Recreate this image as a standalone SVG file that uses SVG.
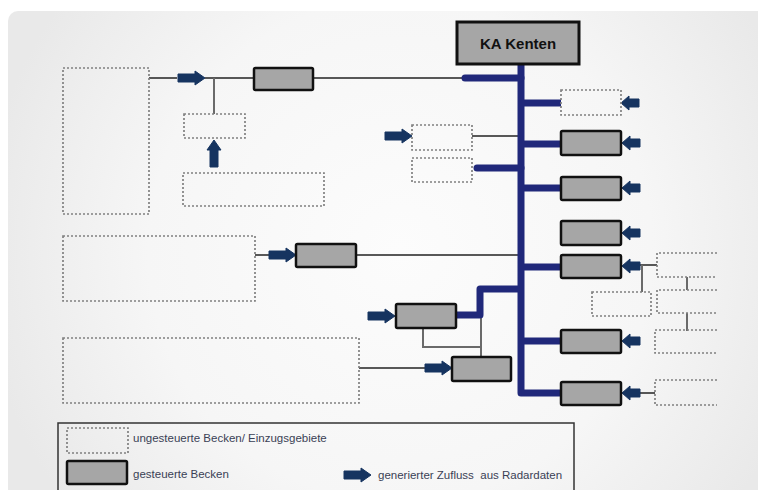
<svg xmlns="http://www.w3.org/2000/svg" width="758" height="490" viewBox="0 0 758 490">
  <defs>
    <radialGradient id="bg" cx="400" cy="250" r="420" gradientUnits="userSpaceOnUse">
      <stop offset="0" stop-color="#fcfcfc"/>
      <stop offset="0.6" stop-color="#f6f6f6"/>
      <stop offset="1" stop-color="#e9e9e9"/>
    </radialGradient>
    <path id="arrR" d="M0,0 L-10,-7 V-4 H-27 V4 H-10 V7 Z"/>
    <path id="arrL" d="M0,0 L8,-7 V-4 H18 V4 H8 V7 Z"/>
  </defs>
  <style>
    .dot { fill: none; stroke: #808080; stroke-width: 1.7; stroke-dasharray: 2 2; }
    .box { fill: #a6a6a6; stroke: #111; stroke-width: 2.5; }
    .thin { fill: none; stroke: #222; stroke-width: 1.5; }
    .gray { fill: none; stroke: #6a6a6a; stroke-width: 2; }
    .bus { fill: none; stroke: #20287a; stroke-width: 7; stroke-linecap: round; stroke-linejoin: round; }
    .arr { fill: #163460; stroke: #163460; stroke-width: 1; stroke-linejoin: round; }
    .lbl { font-family: "Liberation Sans", Arial, sans-serif; font-size: 11.5px; fill: #3a3f55; white-space: pre; }
    .title { font-family: "Liberation Sans", Arial, sans-serif; font-size: 15px; font-weight: bold; fill: #111; }
  </style>

  <rect x="0" y="0" width="758" height="490" fill="#ffffff"/>
  <rect x="8" y="11" width="770" height="500" rx="10" fill="url(#bg)"/>

  <g id="connectors">
    <line class="thin" x1="149" y1="78" x2="177" y2="78"/>
    <line class="thin" x1="205" y1="78" x2="254" y2="78"/>
    <line class="thin" x1="313" y1="78" x2="465" y2="78"/>
    <line class="thin" x1="472" y1="136" x2="521" y2="136"/>
    <line class="thin" x1="255" y1="255" x2="270" y2="255"/>
    <line class="thin" x1="356" y1="255" x2="521" y2="255"/>
    <line class="thin" x1="359" y1="368" x2="430" y2="368"/>
    <line class="thin" x1="640" y1="265" x2="657" y2="265"/>
    <line class="thin" x1="640" y1="393" x2="655" y2="393"/>
    <line class="gray" x1="214" y1="78" x2="214" y2="114"/>
    <polyline class="gray" points="423,328 423,347 481,347"/>
    <line class="gray" x1="481" y1="315" x2="481" y2="357"/>
    <line class="gray" x1="642" y1="265" x2="642" y2="292"/>
    <line class="gray" x1="687" y1="277" x2="687" y2="290"/>
    <line class="gray" x1="687" y1="313" x2="687" y2="331"/>
    <path class="bus" d="M521,64 V393 H561"/>
    <path class="bus" d="M465,78 H521"/>
    <path class="bus" d="M521,103 H561" style="stroke-linecap:butt"/>
    <path class="bus" d="M521,144 H561" style="stroke-linecap:butt"/>
    <path class="bus" d="M477,168 H521"/>
    <path class="bus" d="M521,188 H561" style="stroke-linecap:butt"/>
    <path class="bus" d="M521,267 H561" style="stroke-linecap:butt"/>
    <path class="bus" d="M521,341 H561" style="stroke-linecap:butt"/>
    <path class="bus" d="M456,315 H480 V289 H521" style="stroke-linecap:butt"/>
  </g>

  <g id="inflows" class="arr">
    <use href="#arrR" transform="translate(205,78)"/>
    <use href="#arrR" transform="translate(214,140) rotate(-90)"/>
    <use href="#arrR" transform="translate(412,136)"/>
    <use href="#arrR" transform="translate(296,255)"/>
    <use href="#arrR" transform="translate(395,316)"/>
    <use href="#arrR" transform="translate(452,368)"/>
    <use href="#arrL" transform="translate(621,103)"/>
    <use href="#arrL" transform="translate(622,143)"/>
    <use href="#arrL" transform="translate(622,188)"/>
    <use href="#arrL" transform="translate(622,233)"/>
    <use href="#arrL" transform="translate(622,266)"/>
    <use href="#arrL" transform="translate(622,341)"/>
    <use href="#arrL" transform="translate(622,393)"/>
  </g>

  <g id="ka-kenten">
    <rect x="457" y="22" width="122" height="42" fill="#a6a6a6" stroke="#111" stroke-width="3"/>
    <text class="title" x="518" y="49" text-anchor="middle">KA Kenten</text>
  </g>

  <g id="area-1"><rect class="dot" x="63" y="68" width="86" height="146"/></g>
  <g id="area-2"><rect class="dot" x="184" y="114" width="61" height="24"/></g>
  <g id="area-3"><rect class="dot" x="183" y="173" width="141" height="33"/></g>
  <g id="area-4"><rect class="dot" x="412" y="125" width="60" height="25"/></g>
  <g id="area-5"><rect class="dot" x="412" y="158" width="60" height="24"/></g>
  <g id="area-6"><rect class="dot" x="63" y="236" width="192" height="65"/></g>
  <g id="area-7"><rect class="dot" x="63" y="338" width="296" height="65"/></g>
  <g id="area-8"><rect class="dot" x="561" y="90" width="60" height="25"/></g>
  <g id="area-9"><rect class="dot" x="592" y="292" width="59" height="24"/></g>
  <g id="area-10"><path class="dot" d="M717,253 H657 V277 H717"/></g>
  <g id="area-11"><path class="dot" d="M717,290 H657 V313 H717"/></g>
  <g id="area-12"><path class="dot" d="M717,330 H655 V353 H717"/></g>
  <g id="area-13"><path class="dot" d="M717,380 H655 V405 H717"/></g>

  <g id="basin-1"><rect class="box" x="254" y="68" width="59" height="22" rx="1.5"/></g>
  <g id="basin-2"><rect class="box" x="296" y="244" width="60" height="23" rx="1.5"/></g>
  <g id="basin-3"><rect class="box" x="396" y="304" width="60" height="24" rx="1.5"/></g>
  <g id="basin-4"><rect class="box" x="452" y="357" width="59" height="24" rx="1.5"/></g>
  <g id="basin-5"><rect class="box" x="561" y="131" width="60" height="24" rx="1.5"/></g>
  <g id="basin-6"><rect class="box" x="561" y="177" width="60" height="23" rx="1.5"/></g>
  <g id="basin-7"><rect class="box" x="561" y="221" width="60" height="24" rx="1.5"/></g>
  <g id="basin-8"><rect class="box" x="561" y="255" width="60" height="23" rx="1.5"/></g>
  <g id="basin-9"><rect class="box" x="561" y="330" width="60" height="23" rx="1.5"/></g>
  <g id="basin-10"><rect class="box" x="561" y="382" width="60" height="23" rx="1.5"/></g>

  <g id="legend">
    <rect x="58" y="423" width="516" height="72" fill="none" stroke="#333" stroke-width="1.5"/>
    <rect class="dot" x="67" y="428" width="61" height="25"/>
    <text class="lbl" x="133" y="442">ungesteuerte Becken/ Einzugsgebiete</text>
    <rect class="box" x="67" y="461" width="60" height="23" rx="1.5"/>
    <text class="lbl" x="133" y="478">gesteuerte Becken</text>
    <use class="arr" href="#arrR" transform="translate(371,475)"/>
    <text class="lbl" x="378" y="479">generierter Zufluss  aus Radardaten</text>
  </g>
</svg>
